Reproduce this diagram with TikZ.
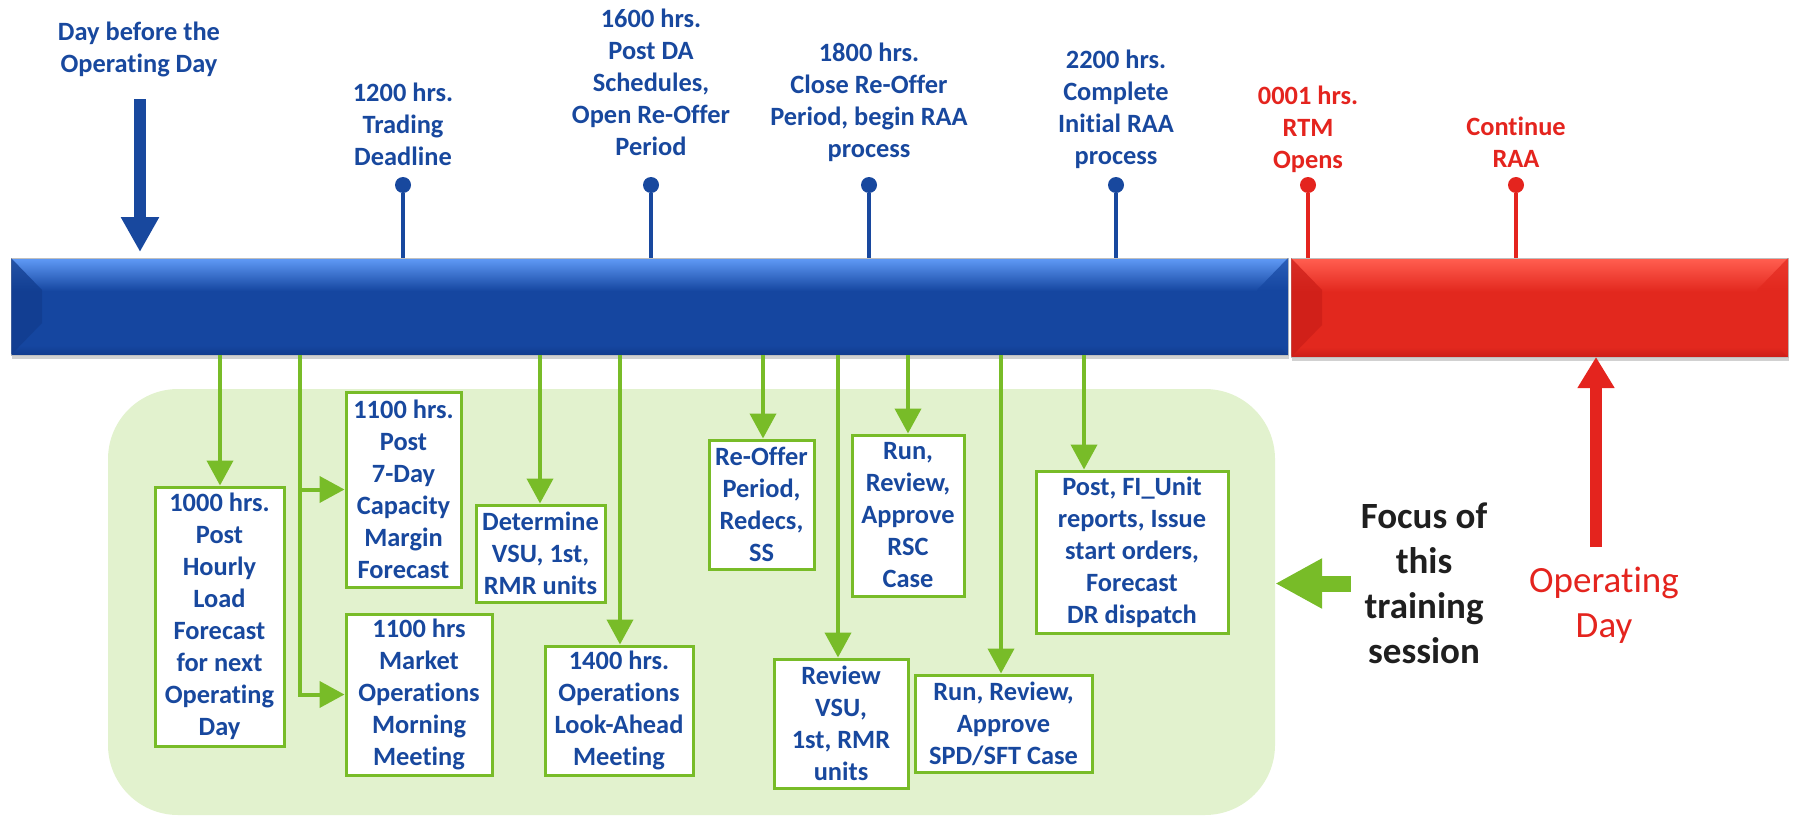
\documentclass[tikz,border=0pt]{standalone}
\usepackage{fontspec}
\setmainfont[Ligatures=NoCommon]{Carlito}
\usepackage{tikz}
\usetikzlibrary{arrows.meta}
\usetikzlibrary{shadows}
\definecolor{daBlue}{RGB}{24, 72, 158}
\definecolor{barBlue}{RGB}{21, 70, 160}
\definecolor{barBlueHi}{RGB}{92, 150, 242}
\definecolor{barBlueDk}{RGB}{17, 60, 142}
\definecolor{rtRed}{RGB}{228, 36, 30}
\definecolor{barRed}{RGB}{226, 40, 30}
\definecolor{barRedHi}{RGB}{255, 92, 78}
\definecolor{barRedDk}{RGB}{204, 30, 24}
\definecolor{leafGreen}{RGB}{120, 188, 40}
\definecolor{paleGreen}{RGB}{226, 242, 206}
\pgfdeclareverticalshading{dabarshade}{100bp}{color(0bp)=(barBlueDk); color(25bp)=(barBlueDk); color(30bp)=(barBlue); color(58bp)=(barBlue); color(74bp)=(barBlueHi); color(100bp)=(barBlueHi)}
\pgfdeclareverticalshading{rtbarshade}{100bp}{color(0bp)=(barRedDk); color(25bp)=(barRedDk); color(30bp)=(barRed); color(58bp)=(barRed); color(74bp)=(barRedHi); color(100bp)=(barRedHi)}
\tikzset{
  hrsfont/.style={font=\bfseries\fontsize{26.4}{32}\selectfont},
  toplbl/.style={hrsfont, align=center, inner sep=0pt, text=daBlue},
  rtlbl/.style={toplbl, text=rtRed},
  taskbox/.style={hrsfont, align=center, draw=leafGreen, line width=3pt, fill=white, text=daBlue, inner sep=0pt},
  panel/.style={fill=paleGreen, rounded corners=70pt, inner sep=0pt, minimum width=1167pt, minimum height=426pt},
  bar/.style={rectangle, shade, inner sep=0pt, outer sep=0pt, draw=black!25, line width=.6pt,
              drop shadow={shadow xshift=1pt, shadow yshift=-4pt, opacity=.3, fill=black!60}},
  pinhead/.style={circle, fill=daBlue, minimum size=16pt, inner sep=0pt},
  pinline/.style={draw=daBlue, line width=3.5pt},
  grarrow/.style={draw=leafGreen, line width=4pt, -{Triangle[length=25pt,width=26pt]}},
  bigblue/.style={draw=daBlue, line width=12pt, -{Triangle[length=35pt,width=36pt]}},
  bigred/.style={draw=rtRed, line width=12pt, -{Triangle[length=31pt,width=35pt]}},
  focusarrow/.style={draw=leafGreen, line width=16pt, -{Triangle[length=47pt,width=47pt]}},
  biglbl/.style={align=center, inner sep=0pt, inner xsep=10pt, font=\fontsize{37}{45}\selectfont}
}
\begin{document}
\begin{tikzpicture}[x=1pt, y=-1pt]
  \useasboundingbox (0,0) rectangle (1795,816);
  \node[panel] (panel) at (691.5, 602.0) {};

  \node[bar, shading=dabarshade, minimum width=1277pt, minimum height=97pt] (dabar) at ( 649.5, 306.5) {};
  \node[bar, shading=rtbarshade, minimum width=497pt,  minimum height=99pt] (rtbar) at (1539.5, 307.5) {};
  \fill[barBlueDk, opacity=.75] (dabar.north west) -- ++( 31,32) -- ++(0,33) -- (dabar.south west) -- cycle;
  \fill[barBlue,   opacity=.70] (dabar.north east) -- ++(-31,32) -- ++(0,33) -- (dabar.south east) -- cycle;
  \fill[barRedDk,  opacity=.75] (rtbar.north west) -- ++( 31,32) -- ++(0,35) -- (rtbar.south west) -- cycle;
  \fill[barRed,    opacity=.70] (rtbar.north east) -- ++(-31,32) -- ++(0,35) -- (rtbar.south east) -- cycle;

  \node[toplbl] (daybefore) at ( 139,  49.0) {Day before the\\Operating Day};
  \node[toplbl] (lbl1200)   at ( 403, 124.0) {1200 hrs.\\Trading\\Deadline};
  \node[toplbl] (lbl1600)   at ( 651,  82.5) {1600 hrs.\\Post DA\\Schedules,\\Open Re-Offer\\Period};
  \node[toplbl] (lbl1800)   at ( 869, 102.0) {1800 hrs.\\Close Re-Offer\\Period, begin RAA\\process};
  \node[toplbl] (lbl2200)   at (1116, 109.0) {2200 hrs.\\Complete\\Initial RAA\\process};
  \node[rtlbl]  (lbl0001)   at (1308, 129.5) {0001 hrs.\\RTM\\Opens};
  \node[rtlbl]  (lblraa)    at (1516, 142.5) {Continue\\RAA};

  \node[pinhead]              (p1200) at ( 403, 185) {};
  \node[pinhead]              (p1600) at ( 651, 185) {};
  \node[pinhead]              (p1800) at ( 869, 185) {};
  \node[pinhead]              (p2200) at (1116, 185) {};
  \node[pinhead, fill=rtRed]  (p0001) at (1308, 185) {};
  \node[pinhead, fill=rtRed]  (praa)  at (1516, 185) {};
  \draw[pinline]            (p1200) -- (p1200 |- dabar.north);
  \draw[pinline]            (p1600) -- (p1600 |- dabar.north);
  \draw[pinline]            (p1800) -- (p1800 |- dabar.north);
  \draw[pinline]            (p2200) -- (p2200 |- dabar.north);
  \draw[pinline, draw=rtRed] (p0001) -- (p0001 |- rtbar.north);
  \draw[pinline, draw=rtRed] (praa)  -- (praa  |- rtbar.north);

  \coordinate (dbtop)  at ( 140,  99);
  \coordinate (opfoot) at (1596, 547);
  \draw[bigblue, shorten >=6pt] (dbtop)  -- (dbtop  |- dabar.north);
  \draw[bigred]                 (opfoot) -- (opfoot |- rtbar.south);

  \node[taskbox, minimum width=129pt, minimum height=259pt] (b1000)     at ( 219.5, 616.5) {1000 hrs.\\Post\\Hourly\\Load\\Forecast\\for next\\Operating\\Day};
  \node[taskbox, minimum width=115pt, minimum height=195pt] (sevenday)  at ( 403.5, 489.5) {1100 hrs.\\Post\\7-Day\\Capacity\\Margin\\Forecast};
  \node[taskbox, minimum width=146pt, minimum height=161pt] (market)    at ( 419.0, 694.5) {1100 hrs\\Market\\Operations\\Morning\\Meeting};
  \node[taskbox, minimum width=129pt, minimum height=97pt]  (determine) at ( 540.5, 553.5) {Determine\\VSU, 1st,\\RMR units};
  \node[taskbox, minimum width=148pt, minimum height=129pt] (lookahead) at ( 619.0, 710.5) {1400 hrs.\\Operations\\Look-Ahead\\Meeting};
  \node[taskbox, minimum width=105pt, minimum height=129pt] (reoffer)   at ( 761.5, 504.5) {Re-Offer\\Period,\\Redecs,\\SS};
  \node[taskbox, minimum width=134pt, minimum height=129pt] (review)    at ( 841.0, 723.5) {Review\\VSU,\\1st, RMR\\units};
  \node[taskbox, minimum width=112pt, minimum height=161pt] (rsc)       at ( 908.0, 515.5) {Run,\\Review,\\Approve\\RSC\\Case};
  \node[taskbox, minimum width=177pt, minimum height=97pt]  (spd)       at (1003.5, 723.5) {Run, Review,\\Approve\\SPD/SFT Case};
  \node[taskbox, minimum width=192pt, minimum height=162pt] (fiunit)    at (1132.0, 552.0) {Post, FI\_Unit\\reports, Issue\\start orders,\\Forecast\\DR dispatch};

  \coordinate (t1) at ( 220, 355);
  \coordinate (t2) at ( 300, 355);
  \coordinate (t3) at ( 540, 355);
  \coordinate (t4) at ( 620, 355);
  \coordinate (t5) at ( 763, 355);
  \coordinate (t6) at ( 838, 355);
  \coordinate (t7) at ( 908, 355);
  \coordinate (t8) at (1001, 355);
  \coordinate (t9) at (1084, 355);
  \draw[grarrow] (t1) -- (t1 |- b1000.north);
  \draw[grarrow] (t2) |- (sevenday.west);
  \draw[grarrow] (t2) |- (market.west);
  \draw[grarrow] (t3) -- (t3 |- determine.north);
  \draw[grarrow] (t4) -- (t4 |- lookahead.north);
  \draw[grarrow] (t5) -- (t5 |- reoffer.north);
  \draw[grarrow] (t6) -- (t6 |- review.north);
  \draw[grarrow] (t7) -- (t7 |- rsc.north);
  \draw[grarrow] (t8) -- (t8 |- spd.north);
  \draw[grarrow] (t9) -- (t9 |- fiunit.north);

  \node[biglbl, font=\bfseries\fontsize{37}{45}\selectfont, text=black!88] (focus) at (1424, 583.5) {Focus of\\this\\training\\session};
  \node[biglbl, text=rtRed] (opday) at (1604, 605.5) {Operating\\Day};
  \draw[focusarrow] (focus.west) -- (focus.west -| panel.east);
\end{tikzpicture}
\end{document}
